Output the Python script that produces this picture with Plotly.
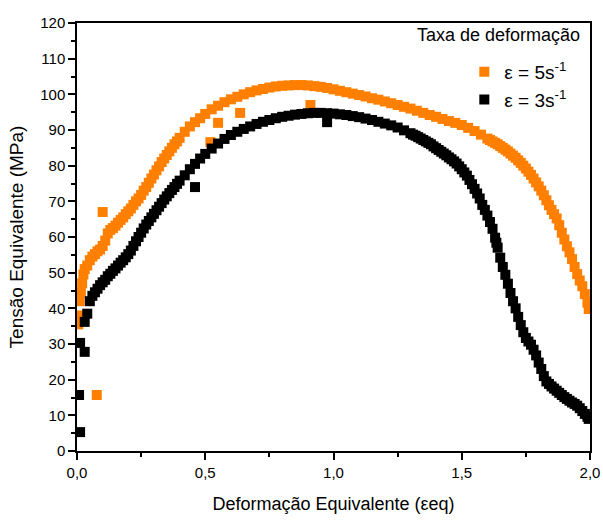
import plotly.graph_objects as go

# 5 s^-1 series (orange)
x5 = [0.005, 0.008, 0.01, 0.015, 0.02, 0.025, 0.03, 0.04, 0.05, 0.06, 0.07, 0.08, 0.09, 0.10,
      0.11, 0.12, 0.13, 0.14, 0.15, 0.16, 0.17, 0.18, 0.19, 0.20, 0.21, 0.22, 0.23, 0.24, 0.25,
      0.26, 0.27, 0.28, 0.29, 0.30, 0.31, 0.32, 0.33, 0.34, 0.35, 0.36, 0.37, 0.38, 0.39, 0.40,
      0.42, 0.44, 0.46, 0.48, 0.50,
      0.525, 0.55, 0.575, 0.60, 0.625, 0.65, 0.675, 0.70, 0.725, 0.75, 0.775, 0.80, 0.825, 0.85,
      0.875, 0.90, 0.925, 0.95, 0.975, 1.00, 1.025, 1.05, 1.075, 1.10, 1.125, 1.15, 1.175, 1.20,
      1.225, 1.25, 1.275, 1.30, 1.325, 1.35, 1.375, 1.40, 1.425, 1.45, 1.475, 1.50, 1.525, 1.55,
      1.575, 1.60, 1.61, 1.62, 1.63, 1.64, 1.65, 1.66, 1.67, 1.68, 1.69, 1.70, 1.71, 1.72, 1.73,
      1.74, 1.75, 1.76, 1.77, 1.78, 1.79, 1.80, 1.81, 1.82, 1.83, 1.84, 1.85, 1.86, 1.87, 1.88,
      1.89, 1.90, 1.91, 1.92, 1.93, 1.94, 1.95, 1.96, 1.97, 1.98, 1.99, 1.995,
      0.10, 0.077, 0.52, 0.55, 0.636, 0.91]
y5 = [35.5, 38, 42, 44.5, 47, 49.5, 51, 52, 53.5, 54.5, 55.2, 56, 56.5, 57.5,
      59, 61, 62, 62.5, 63.2, 64, 64.8, 65.5, 66.4, 67.2, 68, 69, 70, 70.8, 71.8,
      73, 74, 75.2, 76.4, 77.5, 78.7, 79.8, 81, 82, 83, 84, 85, 86, 86.8, 87.8,
      89.5, 91, 92.2, 93.3, 94.5,
      95.8, 96.8, 97.8, 98.6, 99.3, 100, 100.6, 101.1, 101.5, 101.9, 102.2, 102.4, 102.5, 102.6,
      102.6, 102.5, 102.3, 102.1, 101.8, 101.4, 101, 100.6, 100.2, 99.8, 99.4, 98.9, 98.5, 98,
      97.5, 97, 96.5, 96, 95.4, 94.8, 94.2, 93.7, 93.1, 92.5, 92, 91.4, 90.6, 89.7,
      88.7, 87.6, 87.2, 86.8, 86.4, 86.0, 85.5, 85.0, 84.5, 84.0, 83.4, 82.8, 82.2, 81.5, 80.8,
      80.0, 79.2, 78.3, 77.4, 76.4, 75.3, 74.2, 73.0, 71.7, 70.3, 68.9, 67.6, 66.4, 65.2, 63.3,
      61.2, 59.3, 57.4, 55.7, 53.8, 51.6, 49.6, 47.8, 46.2, 44.0, 41.6, 39.8,
      67, 15.7, 86.6, 92, 94.8, 97]

# 3 s^-1 series (black)
x3 = [0.008, 0.012, 0.012, 0.03, 0.03, 0.04, 0.05, 0.06, 0.07, 0.08, 0.09, 0.10, 0.11, 0.12,
      0.13, 0.14, 0.15, 0.16, 0.17, 0.18, 0.19, 0.20, 0.21, 0.22, 0.23, 0.24, 0.25, 0.26, 0.27,
      0.28, 0.29, 0.30, 0.31, 0.32, 0.33, 0.34, 0.35, 0.36, 0.37, 0.38, 0.39, 0.40, 0.42, 0.44,
      0.46, 0.48, 0.50,
      0.525, 0.55, 0.575, 0.60, 0.625, 0.65, 0.675, 0.70, 0.725, 0.75, 0.775, 0.80, 0.825,
      0.85, 0.875, 0.90, 0.925, 0.95, 0.975, 1.00, 1.025, 1.05, 1.075, 1.10, 1.125, 1.15, 1.175,
      1.20, 1.225, 1.25, 1.275, 1.30, 1.31, 1.32, 1.33, 1.34, 1.35, 1.36, 1.37, 1.38, 1.39,
      1.40, 1.41, 1.42, 1.43, 1.44, 1.45, 1.46, 1.47, 1.48, 1.49, 1.50, 1.51, 1.52, 1.53, 1.54,
      1.55, 1.56, 1.57, 1.58, 1.59, 1.60, 1.61, 1.62, 1.63, 1.635, 1.64, 1.65, 1.66, 1.67, 1.68,
      1.69, 1.70, 1.71, 1.72, 1.73, 1.74, 1.75, 1.76, 1.77, 1.78, 1.79, 1.80, 1.81, 1.82, 1.83,
      1.84, 1.85, 1.86, 1.87, 1.88, 1.89, 1.90, 1.91, 1.92, 1.93, 1.94, 1.95, 1.96, 1.97, 1.98,
      1.99, 1.995,
      0.46, 0.975]
y3 = [15.7, 5.3, 30.3, 27.8, 36.2, 38.5, 42, 43.5, 44.5, 45.5, 46.5, 47.3, 48, 49,
      49.7, 50.5, 51.2, 52, 52.8, 53.5, 54.3, 55.2, 56.2, 57.5, 58.8, 60, 61.2, 62.4, 63.5,
      64.5, 65.5, 66.5, 67.5, 68.5, 69.5, 70.5, 71.4, 72.3, 73.2, 74, 74.9, 75.8, 77.3, 79,
      80.5, 82, 83.3,
      84.8, 86.2, 87.5, 88.6, 89.5, 90.3, 91, 91.7, 92.3, 92.8, 93.3, 93.7, 94,
      94.3, 94.5, 94.7, 94.8, 94.8, 94.7, 94.6, 94.4, 94.2, 93.9, 93.6, 93.2, 92.8, 92.3,
      91.8, 91.3, 90.7, 89.9, 89.1, 88.7, 88.4, 88.0, 87.6, 87.2, 86.8, 86.4, 86.0, 85.4,
      84.9, 84.4, 83.9, 83.4, 82.9, 82.3, 81.8, 81.2, 80.6, 79.8, 79.0, 78.1, 77.2, 76.0, 74.8,
      73.5, 72.2, 70.8, 69.0, 67.6, 66.0, 64.2, 62.3, 59.8, 58.4, 57.0, 54.2, 51.6, 49.4, 46.9,
      44.3, 42.0, 40.0, 37.6, 35.3, 33.3, 31.7, 30.7, 29.8, 28.4, 26.8, 24.8, 23.0, 21.0, 19.5,
      18.8, 18.1, 17.5, 16.9, 16.3, 15.7, 15.1, 14.6, 14.1, 13.6, 13.2, 12.7, 12.0, 11.2, 10.4,
      9.6, 9.0,
      74, 92.2]

yticks = list(range(0, 121, 10))
xticks = [0.0, 0.5, 1.0, 1.5, 2.0]

FONT = "Liberation Sans, Arial, sans-serif"

fig = go.Figure()
fig.add_trace(go.Scatter(x=x5, y=y5, mode="markers", name="ε = 5s<sup>-1</sup>",
                         marker=dict(symbol="square", size=10, color="#FF7F00")))
fig.add_trace(go.Scatter(x=x3, y=y3, mode="markers", name="ε = 3s<sup>-1</sup>",
                         marker=dict(symbol="square", size=10, color="#000000")))

fig.update_layout(
    width=603, height=521,
    margin=dict(l=77, r=13, t=23, b=70),
    paper_bgcolor="white", plot_bgcolor="white",
    separators=",.",
    font=dict(family=FONT, size=15, color="black"),
    showlegend=True,
    legend=dict(x=0.755, y=0.93, xanchor="left", yanchor="top",
                font=dict(family=FONT, size=19), bgcolor="rgba(0,0,0,0)",
                tracegroupgap=4),
    annotations=[dict(text="Taxa de deformação", x=0.985, y=1.0, xref="paper", yref="paper",
                      xanchor="right", yanchor="top", showarrow=False,
                      font=dict(family=FONT, size=18))],
)
fig.update_xaxes(range=[0, 2], tickvals=xticks, tickformat=".1f", automargin=False,
                 showline=True, linecolor="black", linewidth=1.5, mirror=True,
                 ticks="outside", ticklen=7, tickwidth=1.5, tickcolor="black",
                 minor=dict(dtick=0.25, ticks="outside", ticklen=4, tickwidth=1.5, tickcolor="black"),
                 showgrid=False, zeroline=False,
                 tickfont=dict(size=15),
                 title=dict(text="Deformação Equivalente (εeq)", font=dict(size=18), standoff=18))
fig.update_yaxes(range=[0, 120], tickvals=yticks, automargin=False,
                 showline=True, linecolor="black", linewidth=1.5, mirror=True,
                 ticks="outside", ticklen=7, tickwidth=1.5, tickcolor="black",
                 minor=dict(dtick=5, ticks="outside", ticklen=4, tickwidth=1.5, tickcolor="black"),
                 showgrid=False, zeroline=False,
                 tickfont=dict(size=15),
                 title=dict(text="Tensão Equivalente (MPa)", font=dict(size=19), standoff=12))

fig.write_html("out.html", config={"displayModeBar": False},
               post_script="document.body.style.margin='0';document.body.style.overflow='hidden';")
